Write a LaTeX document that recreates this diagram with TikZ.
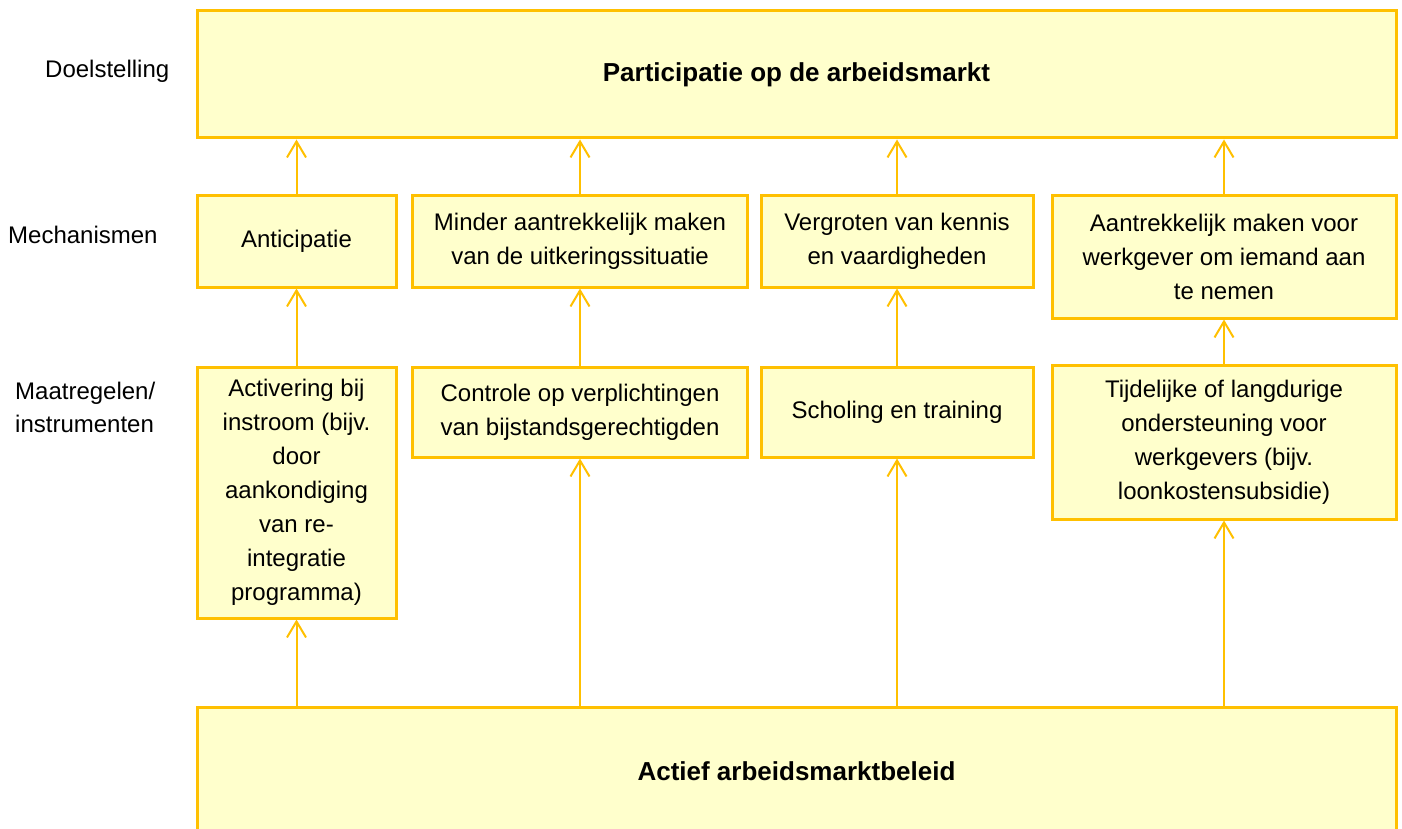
\documentclass[tikz,border=0pt]{standalone}
\usepackage{fontspec}
\setmainfont{Liberation Sans}
\usetikzlibrary{arrows.meta}
\definecolor{boxline}{HTML}{FFC000}
\definecolor{boxfill}{HTML}{FFFFCC}
\tikzset{
  box/.style={draw=boxline, fill=boxfill, line width=3pt, align=center, inner sep=0pt,
    font=\fontsize{24}{34}\selectfont},
  bigbox/.style={box, font=\fontsize{26}{34}\selectfont\bfseries},
  lbl/.style={align=left, inner sep=0pt, font=\fontsize{24}{33}\selectfont},
  arr/.style={draw=boxline, line width=2pt, -{Straight Barb[length=16pt,width=19pt,line width=2pt]}}
}
\begin{document}
\begin{tikzpicture}[x=1pt,y=-1pt]
\useasboundingbox (0,0) rectangle (1402,829);
\clip (0,0) rectangle (1402,829);
\fill[white] (0,0) rectangle (1402,829);
% labels
\node[lbl, anchor=west] (l1) at (45,71) {Doelstelling};
\node[lbl, anchor=west] (l2) at (8,235) {Mechanismen};
\node[lbl, anchor=north west] (l3) at (15,382) {Maatregelen/\\instrumenten};
% top
\node[bigbox, minimum width=1199pt, minimum height=127pt] (top) at (796.5,74.5) {Participatie op de arbeidsmarkt};
% mechanisms
\node[box, minimum width=199pt, minimum height=91pt] (ant) at (296.5,241.5) {Anticipatie};
\node[box, minimum width=335pt, minimum height=91pt] (min) at (580,241.5) {Minder aantrekkelijk maken\\van de uitkeringssituatie};
\node[box, minimum width=272pt, minimum height=91pt] (ver) at (897,241.5) {Vergroten van kennis\\en vaardigheden};
\node[box, minimum width=344pt, minimum height=122pt] (aan) at (1224,257) {Aantrekkelijk maken voor\\werkgever om iemand aan\\te nemen};
% instruments
\node[box, minimum width=199pt, minimum height=251pt] (act) at (296.5,492.5) {Activering bij\\instroom (bijv.\\door\\aankondiging\\van re-\\integratie\\programma)};
\node[box, minimum width=335pt, minimum height=90pt] (con) at (580,412) {Controle op verplichtingen\\van bijstandsgerechtigden};
\node[box, minimum width=272pt, minimum height=90pt] (sch) at (897,412) {Scholing en training};
\node[box, minimum width=344pt, minimum height=154pt] (tij) at (1224,442) {Tijdelijke of langdurige\\ondersteuning voor\\werkgevers (bijv.\\loonkostensubsidie)};
% bottom
\node[bigbox, minimum width=1199pt, minimum height=128pt] (bot) at (796.5,771) {Actief arbeidsmarktbeleid};
% arrows
\foreach \lo/\hi in {ant/top, min/top, ver/top, aan/top} {
  \draw[arr] (\lo.north) -- (\lo.north |- \hi.south);
}
\foreach \lo/\hi in {act/ant, con/min, sch/ver, tij/aan} {
  \draw[arr] (\lo.north) -- (\hi.south);
}
\foreach \hi in {act, con, sch, tij} {
  \draw[arr] (\hi.south |- bot.north) -- (\hi.south);
}
\end{tikzpicture}
\end{document}
